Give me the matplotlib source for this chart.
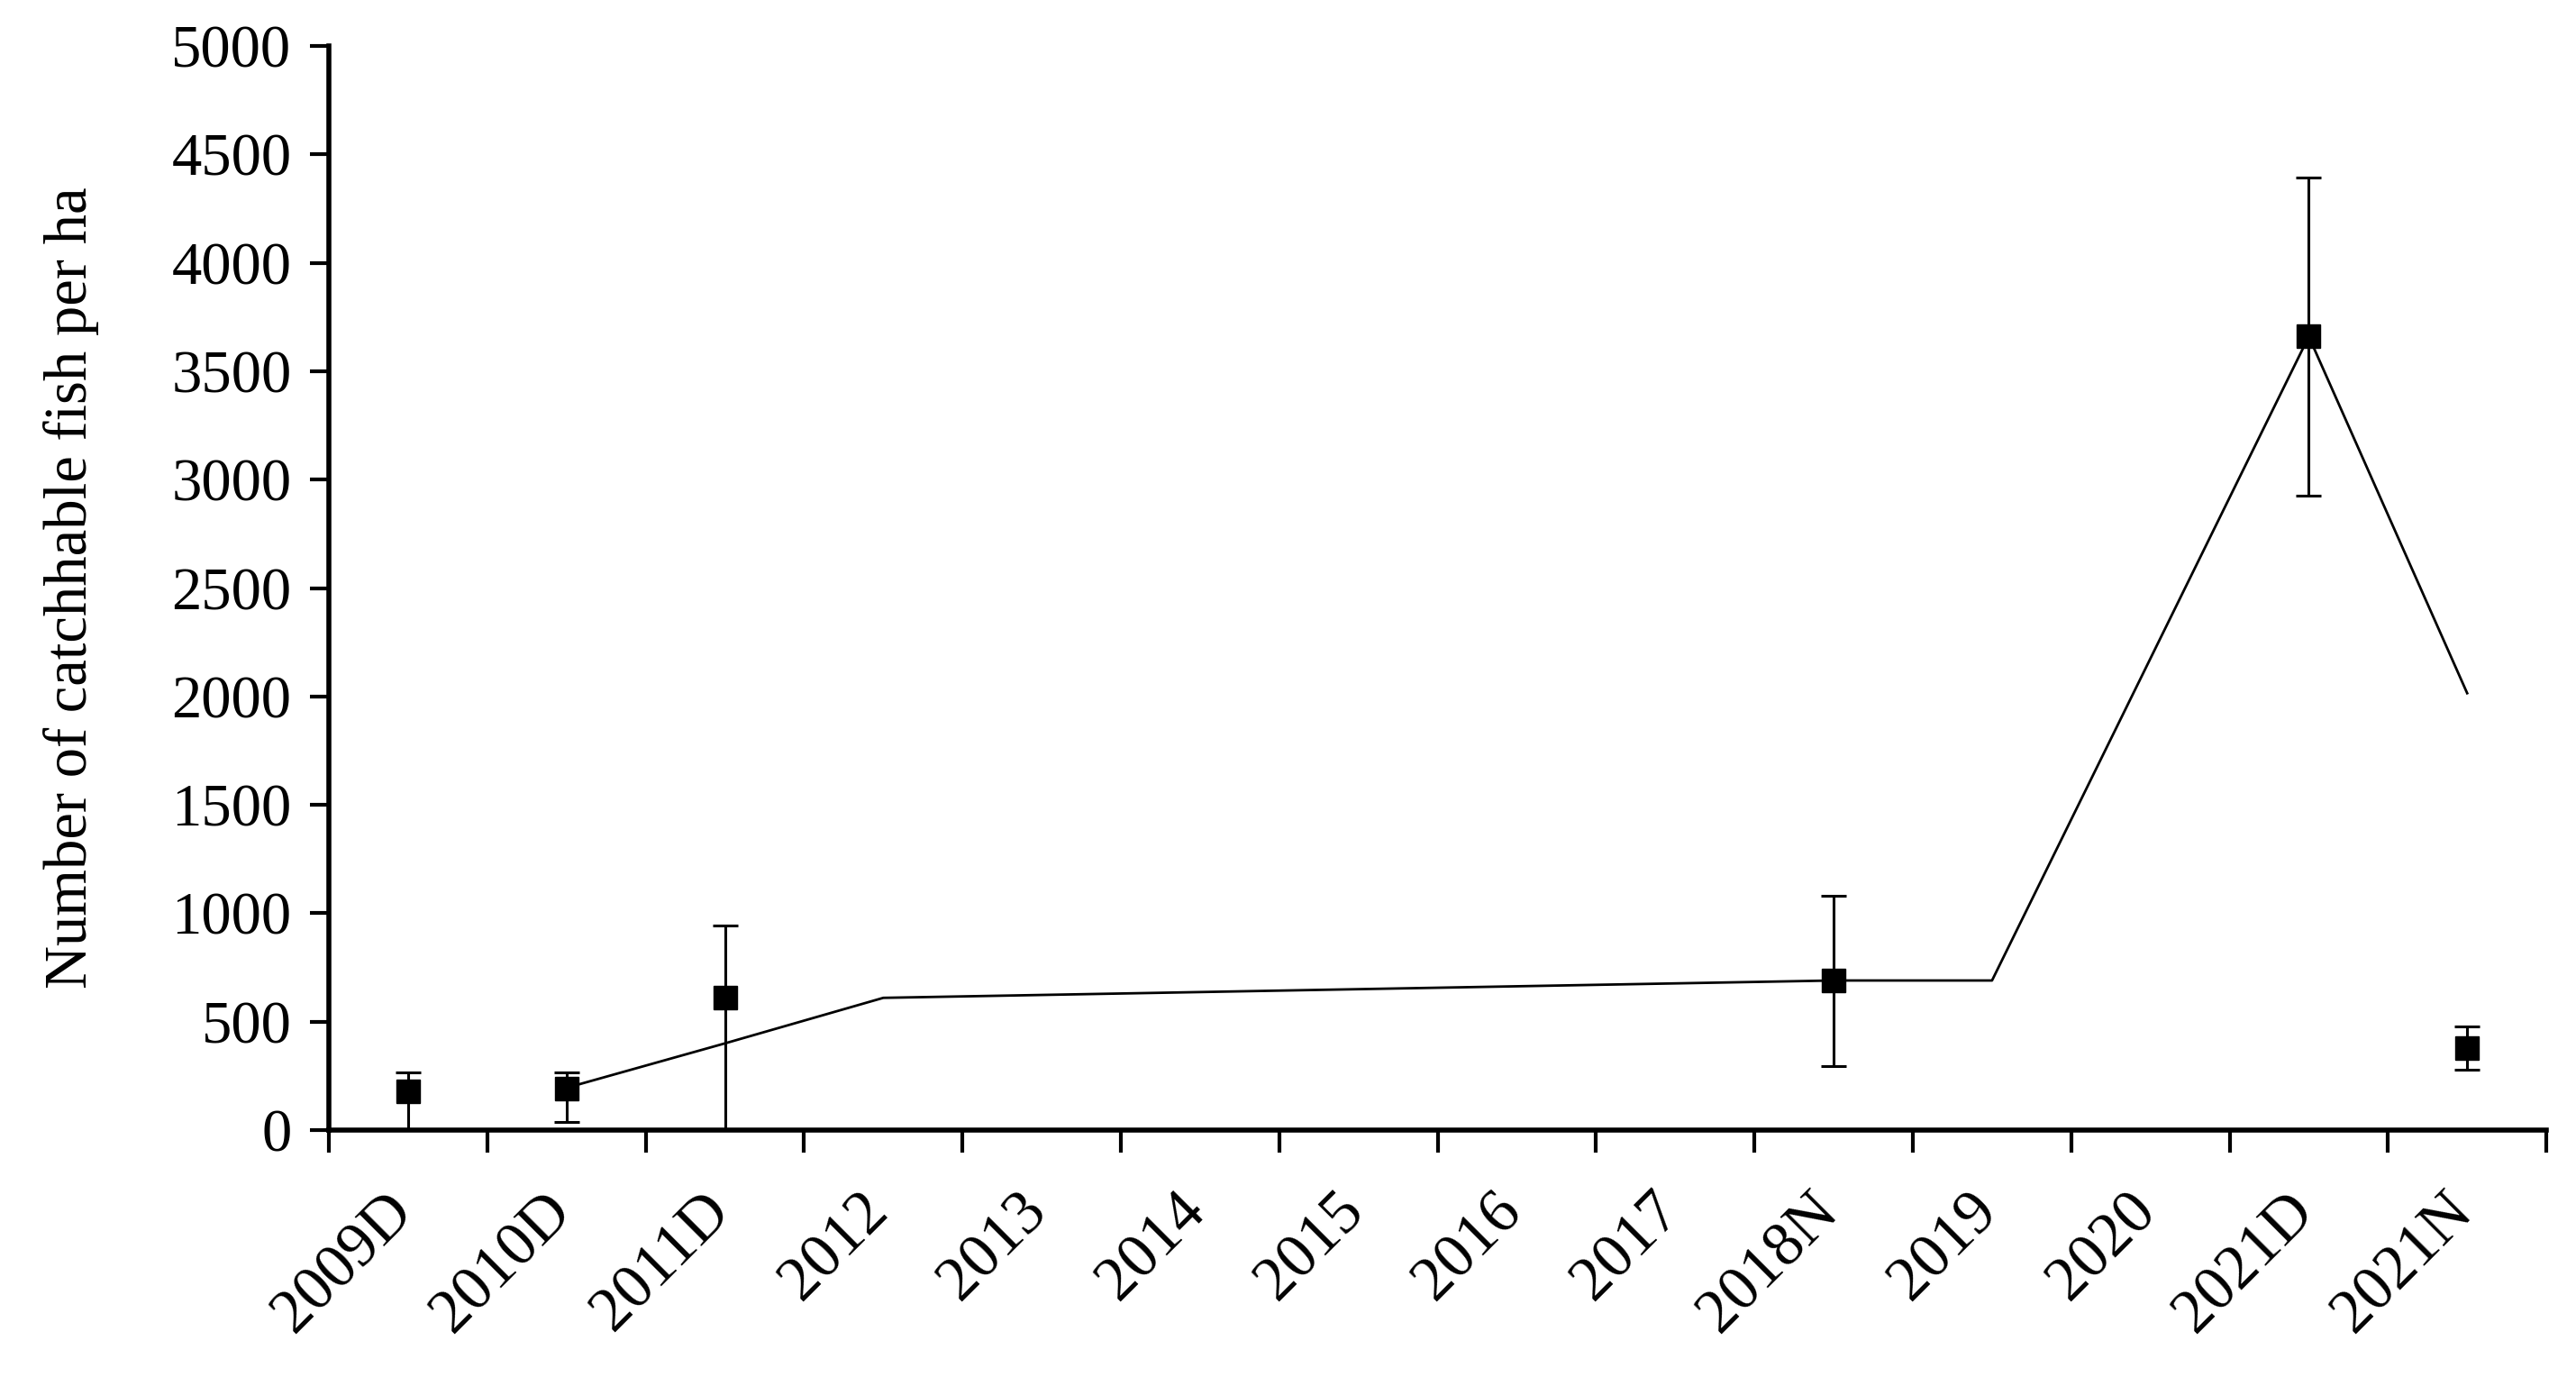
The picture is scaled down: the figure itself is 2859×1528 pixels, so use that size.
import matplotlib.pyplot as plt
import matplotlib.transforms as mtransforms
import numpy as np

plt.rcParams["font.family"] = ["Liberation Serif", "DejaVu Serif"]

# category labels (Excel style, one per survey)
categories = ['2009D', '2010D', '2011D', '2012', '2013', '2014', '2015',
              '2016', '2017', '2018N', '2019', '2020', '2021D', '2021N']

# survey estimates with error bars (NaN = no survey)
meanFish = [180, 190, 610, np.nan, np.nan, np.nan, np.nan,
            np.nan, np.nan, 690, np.nan, np.nan, 3660, 380]
errLow = [180, 153, 610, 0, 0, 0, 0, 0, 0, 395, 0, 0, 735, 100]
errHigh = [85, 76, 335, 0, 0, 0, 0, 0, 0, 390, 0, 0, 735, 100]

# trend line (NaN = gap, connected straight)
trendFish = [np.nan, 195, 400, 610, np.nan, np.nan, np.nan,
             np.nan, np.nan, 690, 690, np.nan, 3660, 2015]

fontSize = 48

fig = plt.figure(figsize=(28.59, 15.28), dpi=100)
ax = fig.add_axes([0.1277, 0.1793, 0.8608, 0.7873])

x = np.arange(len(categories))
yMean = np.array(meanFish, dtype=float)
yTrend = np.array(trendFish, dtype=float)

okT = ~np.isnan(yTrend)
ax.plot(x[okT], yTrend[okT], color='black', linewidth=2, zorder=2)

okM = ~np.isnan(yMean)
ax.errorbar(x[okM], yMean[okM],
            yerr=[np.array(errLow)[okM], np.array(errHigh)[okM]],
            fmt='s', color='black', markersize=19, elinewidth=2.2,
            capsize=10, capthick=2.2, zorder=3, clip_on=True)

ax.set_xlim(-0.5, len(categories) - 0.5)
ax.set_ylim(0, 5000)
ax.set_yticks(np.arange(0, 5001, 500))
ax.tick_params(axis='y', labelsize=fontSize, length=15, width=3, direction='out', pad=15)

ax.set_xticks(x)
ax.set_xticklabels(categories, rotation=45, ha='right', va='center',
                   rotation_mode='anchor', fontsize=50)
ax.tick_params(axis='x', which='major', length=0, pad=58)
ax.set_xticks(np.arange(-0.5, len(categories), 1), minor=True)
ax.tick_params(axis='x', which='minor', length=18, width=3, direction='out')
shift = mtransforms.ScaledTranslation(-0.04, 0, fig.dpi_scale_trans)
for lbl in ax.get_xticklabels():
    lbl.set_transform(lbl.get_transform() + shift)

ax.spines['top'].set_visible(False)
ax.spines['right'].set_visible(False)
ax.spines['left'].set_linewidth(4)
ax.spines['bottom'].set_linewidth(4)

ax.set_ylabel('Number of catchhable fish per ha', fontsize=fontSize, labelpad=58)

plt.savefig('out.png', dpi=100)
